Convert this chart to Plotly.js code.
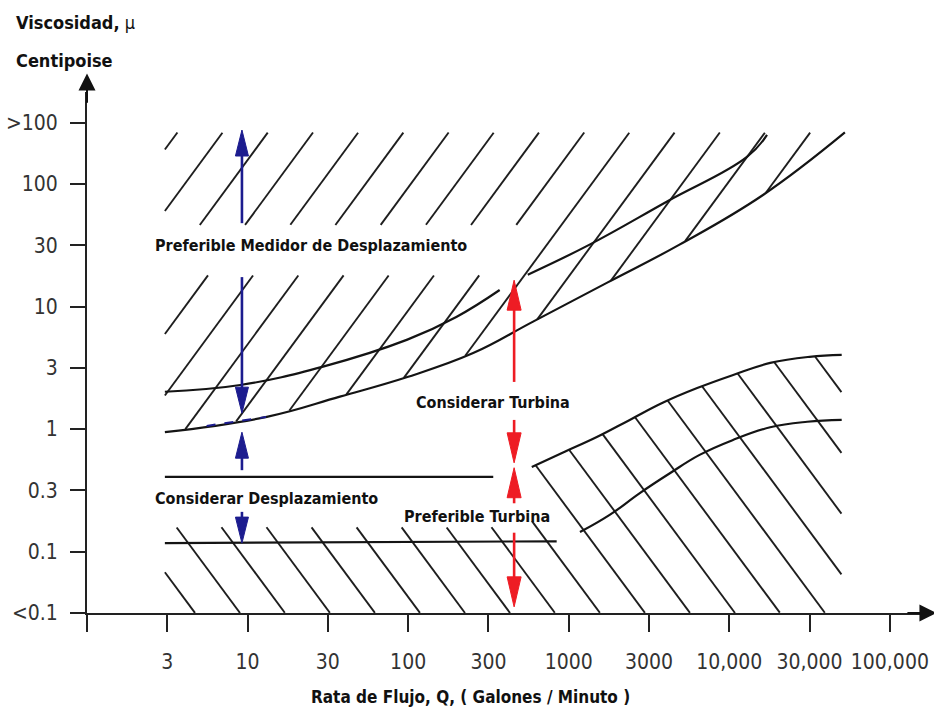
<!DOCTYPE html>
<html><head><meta charset="utf-8">
<script src="https://cdn.plot.ly/plotly-3.0.1.min.js"></script>
<style>html,body{margin:0;padding:0;background:#fff}#chart{width:934px;height:714px}</style>
</head><body><div id="chart"></div>
<script>
// ---- axis categories (ordinal positions on each axis) ----
const flowLabels = ["", "3", "10", "30", "100", "300", "1000", "3000", "10,000", "30,000", "100,000"];
const viscLabels = ["<0.1", "0.1", "0.3", "1", "3", "10", "30", "100", ">100"];

// ---- boundary curves (x = flow tick index, y = viscosity tick index) ----
const curveA_x = [0.97, 1.91, 2.94, 3.99, 4.60, 5.14, 5.30, 5.49, 6.26, 7.22, 8.22, 8.47];
const curveA_y = [3.61, 3.72, 4.02, 4.46, 4.83, 5.27, null, 5.52, 6.01, 6.71, 7.44, 7.80];
const curveB_x = [0.97, 2.24, 3.15, 3.99, 4.81, 5.55, 6.48, 7.38, 8.42, 9.44];
const curveB_y = [2.95, 3.20, 3.53, 3.85, 4.24, 4.75, 5.39, 6.01, 6.82, 7.84];
const line03_x = [0.97, 5.06];
const line03_y = [2.22, 2.22];
const curveC_x = [0.97, 5.85, 6.00, 6.14, 6.51, 6.89, 7.26, 7.63, 8.04, 8.51, 8.97, 9.40];
const curveC_y = [1.14, 1.17, null, 1.32, 1.60, 1.96, 2.28, 2.58, 2.82, 3.03, 3.12, 3.15];
const curveD_x = [5.54, 5.95, 6.35, 6.76, 7.17, 7.60, 8.04, 8.51, 9.00, 9.40];
const curveD_y = [2.38, 2.63, 2.87, 3.15, 3.43, 3.67, 3.88, 4.08, 4.18, 4.21];

// hatched zone limits
const zoneLeft = 0.97;
const upperZoneTop = 7.84;
const lowerZoneTop = 1.40;
const textGap = {x0: 0.91, x1: 5.42, y0: 5.51, y1: 6.33};

// ---- region arrows ----
const blueX = 1.93;
const blueFrom = [6.36, 5.48, 2.33, 1.65];
const blueTo   = [7.88, 3.26, 2.95, 1.14];
const redX = 5.32;
const redFrom = [3.77, 3.15, 1.79, 1.31];
const redTo   = [5.43, 2.45, 2.37, 0.10];

// ---- region labels ----
const regionLabels = ["Preferible Medidor de Desplazamiento", "Considerar Turbina", "Considerar Desplazamiento", "Preferible Turbina"];
const labelX = [2.79, 5.06, 2.24, 4.86];
const labelY = [6.00, 3.43, 1.86, 1.57];

// ---- layout geometry ----
const W = 934, H = 714;
const M = {l: 87, r: 4, t: 92, b: 101};
const XR = [0, 10.5], YR = [0, 8.5];
const SX = (W - M.l - M.r) / (XR[1] - XR[0]);
const SY = (H - M.t - M.b) / (YR[1] - YR[0]);
const FONT = "'Liberation Sans Narrow', 'Arial Narrow', 'DejaVu Sans Condensed', sans-serif";

function interp(xs, ys, x) {
  if (x < xs[0] || x > xs[xs.length - 1]) return null;
  for (let i = 0; i < xs.length - 1; i++) {
    if (x >= xs[i] && x <= xs[i + 1]) {
      const y0 = ys[i], y1 = ys[i + 1];
      if (y0 == null || y1 == null) return null;
      const t = (x - xs[i]) / (xs[i + 1] - xs[i] || 1);
      return y0 + t * (y1 - y0);
    }
  }
  return null;
}

// hatch lines: family y = ay + slope*(x - (ax + k*sp)), clipped by region test
function hatch(ax, ay, slopePx, spacingPx, xMin, xMax, inside) {
  const slope = slopePx * SX / SY;
  const sp = spacingPx / SX;
  const hx = [], hy = [];
  const step = 0.003;
  for (let k = -80; k <= 80; k++) {
    const x0 = ax + k * sp;
    let run = null;
    for (let x = xMin; x <= xMax + 1e-9; x += step) {
      const y = ay + slope * (x - x0);
      const ok = inside(x, y);
      if (ok && !run) run = [x, y];
      if (ok) { run[2] = x; run[3] = y; }
      if ((!ok || x + step > xMax + 1e-9) && run) {
        if (Math.hypot((run[2] - run[0]) * SX, (run[3] - run[1]) * SY) > 3) {
          hx.push(run[0], run[2], null); hy.push(run[1], run[3], null);
        }
        run = null;
      }
    }
  }
  return {hx, hy};
}

const upperHatch = hatch(1.121, 7.83, 1.36, 45.2, zoneLeft, curveB_x[curveB_x.length - 1], (x, y) => {
  const lo = interp(curveB_x, curveB_y, x);
  if (lo == null) return false;
  if (y < lo || y > upperZoneTop) return false;
  if (x >= textGap.x0 && x <= textGap.x1 && y >= textGap.y0 && y <= textGap.y1) return false;
  return true;
});
const lowerHatch = hatch(6.39, 0, -1.35, 45, zoneLeft, curveD_x[curveD_x.length - 1], (x, y) => {
  const top = x < curveD_x[0] ? lowerZoneTop : interp(curveD_x, curveD_y, x);
  if (top == null) return false;
  return y >= 0 && y <= top;
});

const traces = [];
const hatchStyle = {color: '#1e1e1e', width: 1.9};
traces.push({x: upperHatch.hx, y: upperHatch.hy, mode: 'lines', line: hatchStyle, hoverinfo: 'skip'});
traces.push({x: lowerHatch.hx, y: lowerHatch.hy, mode: 'lines', line: hatchStyle, hoverinfo: 'skip'});

const curveStyle = {color: '#141414', width: 2.2, shape: 'spline', smoothing: 1.2};
[[curveA_x, curveA_y], [curveB_x, curveB_y], [line03_x, line03_y], [curveC_x, curveC_y], [curveD_x, curveD_y]].forEach(c => {
  traces.push({x: c[0], y: c[1], mode: 'lines', line: curveStyle, connectgaps: false, hoverinfo: 'skip'});
});

// blue overlay on curve B near the blue arrow
const bx = [], by = [];
for (let x = 1.49; x <= 2.24; x += 0.02) { bx.push(x); by.push(interp(curveB_x, curveB_y, x)); }
traces.push({x: bx, y: by, mode: 'lines', line: {color: '#1c1c8f', width: 2, dash: 'dash'}, hoverinfo: 'skip'});

function arrows(x, from, to, color, Lpx, Wpx, lw) {
  from.forEach((f, i) => {
    const t = to[i];
    const dir = t > f ? 1 : -1;
    const L = Lpx / SY, Wd = Wpx / SX;
    traces.push({x: [x, x], y: [f, t - dir * L * 0.7], mode: 'lines', line: {color, width: lw}, hoverinfo: 'skip'});
    traces.push({x: [x - Wd, x, x + Wd, x - Wd], y: [t - dir * L, t, t - dir * L, t - dir * L],
      mode: 'lines', fill: 'toself', fillcolor: color, line: {color, width: 1}, hoverinfo: 'skip'});
  });
}
arrows(blueX, blueFrom, blueTo, '#1c1c8f', 26, 6.5, 2.6);
arrows(redX, redFrom, redTo, '#ee1c24', 30, 7, 2.6);

const annotations = [];
regionLabels.forEach((t, i) => {
  annotations.push({x: labelX[i], y: labelY[i], xref: 'x', yref: 'y', text: '<b>' + t + '</b>', showarrow: false,
    font: {family: FONT, size: 16, color: '#111'}, xanchor: 'center', yanchor: 'middle'});
});
// axis arrows
annotations.push({x: 10.58, y: 0, ax: 10.2, ay: 0, xref: 'x', yref: 'y', axref: 'x', ayref: 'y', text: '', showarrow: true,
  arrowhead: 2, arrowsize: 1.7, arrowwidth: 2, arrowcolor: '#111', standoff: 0});
annotations.push({x: 0, y: 8.8, ax: 0, ay: 8.3, xref: 'x', yref: 'y', axref: 'x', ayref: 'y', text: '', showarrow: true,
  arrowhead: 2, arrowsize: 1.7, arrowwidth: 2, arrowcolor: '#111', standoff: 0});
// axis titles
annotations.push({xref: 'paper', yref: 'paper', x: (14 - M.l) / (W - M.l - M.r), y: 1.134, xanchor: 'left', yanchor: 'middle',
  text: '<b>Viscosidad,</b> µ', showarrow: false, font: {family: FONT, size: 18, color: '#111'}});
annotations.push({xref: 'paper', yref: 'paper', x: (14 - M.l) / (W - M.l - M.r), y: 1.061, xanchor: 'left', yanchor: 'middle',
  text: '<b>Centipoise</b>', showarrow: false, font: {family: FONT, size: 18, color: '#111'}});
annotations.push({xref: 'paper', yref: 'paper', x: (470 - M.l) / (W - M.l - M.r), y: -0.161, xanchor: 'center', yanchor: 'middle',
  text: '<b>Rata de Flujo, Q, ( Galones / Minuto )</b>', showarrow: false, font: {family: FONT, size: 17, color: '#111'}});

const layout = {
  width: W, height: H, margin: M, showlegend: false,
  paper_bgcolor: '#fff', plot_bgcolor: '#fff',
  xaxis: {range: XR, tickvals: flowLabels.map((_, i) => i), ticktext: flowLabels, ticks: 'outside', ticklen: 17, tickwidth: 2,
    tickcolor: '#222', showline: true, linecolor: '#222', linewidth: 2, showgrid: false, zeroline: false,
    tickfont: {family: FONT, size: 21, color: '#333'}, ticklabelstandoff: 12, fixedrange: true},
  yaxis: {range: YR, tickvals: viscLabels.map((_, i) => i), ticktext: viscLabels, ticks: 'outside', ticklen: 15, tickwidth: 2,
    tickcolor: '#222', showline: true, linecolor: '#222', linewidth: 2, showgrid: false, zeroline: false,
    tickfont: {family: FONT, size: 21, color: '#333'}, ticklabelstandoff: 8, fixedrange: true},
  annotations
};
Plotly.newPlot('chart', traces, layout, {displayModeBar: false, staticPlot: true});
</script></body></html>
